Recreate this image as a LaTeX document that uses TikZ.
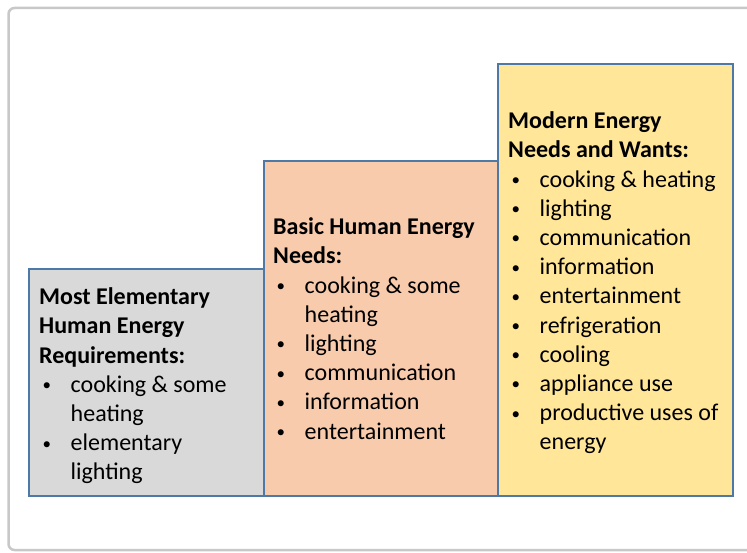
\documentclass[tikz,border=0pt]{standalone}
\usepackage{fontspec}
\setmainfont{Carlito}
\usetikzlibrary{positioning}

\definecolor{frameGray}{HTML}{C8C8C8}
\definecolor{edgeBlue}{HTML}{4E79A7}
\definecolor{fillGray}{HTML}{D9D9D9}
\definecolor{fillPeach}{HTML}{F8CBAD}
\definecolor{fillYellow}{HTML}{FFE699}

% bullet line and its continuation
\newcommand{\dotmark}{\raisebox{1.5pt}{\fontsize{17}{17}\selectfont\textbullet}}
\newcommand{\itm}[1]{\makebox[31.5pt][l]{\hspace{3.5pt}\dotmark}#1}
\newcommand{\cnt}[1]{\hspace*{31.5pt}#1}

\tikzset{
  stepbox/.style={draw=edgeBlue,line width=1.5pt},
  boxtext/.style={anchor=north west,inner sep=0pt,align=left,
    font=\fontsize{24}{29.2}\selectfont}
}

\begin{document}
\begin{tikzpicture}[x=1pt,y=-1pt]
		\useasboundingbox (0,0) rectangle (747,553);
		\clip (0,0) rectangle (747,553);
		\draw[frameGray,line width=2.5pt,rounded corners=6pt] (8.5,8) rectangle (770,550);
		% the three steps
		\draw[stepbox,fill=fillGray] (29,269) rectangle (264,496);
		\draw[stepbox,fill=fillPeach] (264,161) rectangle (498,496);
		\draw[stepbox,fill=fillYellow] (498,64) rectangle (733,496);
		\node[boxtext] (elem) at (39,284) {\strut\textbf{Most Elementary}\\
			\textbf{Human Energy}\\
			\textbf{Requirements:}\\
			\itm{cooking \& some}\\
			\cnt{heating}\\
			\itm{elementary}\\
			\cnt{lighting}};
		\node[boxtext] (basic) at (273,214) {\strut\textbf{Basic Human Energy}\\
			\textbf{Needs:}\\
			\itm{cooking \& some}\\
			\cnt{heating}\\
			\itm{lighting}\\
			\itm{communication}\\
			\itm{information}\\
			\itm{entertainment}};
		\node[boxtext] (modern) at (508,108) {\strut\textbf{Modern Energy}\\
			\textbf{Needs and Wants:}\\
			\itm{cooking \& heating}\\
			\itm{lighting}\\
			\itm{communication}\\
			\itm{information}\\
			\itm{entertainment}\\
			\itm{refrigeration}\\
			\itm{cooling}\\
			\itm{appliance use}\\
			\itm{productive uses of}\\
			\cnt{energy}};
		\end{tikzpicture}
\end{document}
